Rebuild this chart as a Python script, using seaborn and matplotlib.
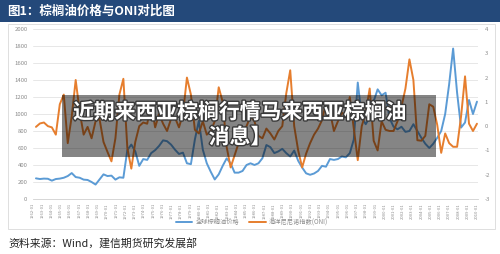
import numpy as np
import pandas as pd
import matplotlib
matplotlib.use('Agg')
import matplotlib.pyplot as plt
import matplotlib.patheffects as pe
from matplotlib.patches import Rectangle
import seaborn as sns

sns.set_style('white')
plt.rcParams['font.family'] = ['Noto Sans CJK SC', 'DejaVu Sans']
plt.rcParams['axes.unicode_minus'] = False

# ---- data ----
# global palm oil price, left axis
price = [243, 235, 240, 238, 216, 235, 240, 250, 270, 305,
         258, 250, 228, 224, 200, 170, 230, 290, 270, 275,
         228, 255, 250, 576, 640, 560, 390, 470, 460, 540,
         575, 625, 690, 680, 640, 580, 530, 545, 420, 410,
         700, 920, 580, 420, 320, 230, 290, 390, 478, 420,
         310, 310, 330, 400, 420, 400, 420, 480, 635, 610,
         540, 560, 590, 540, 500, 570, 450, 370, 302, 285,
         300, 330, 390, 380, 470, 460, 470, 500, 490, 540,
         700, 1370, 960, 880, 960, 1150, 1290, 1220, 1250, 950,
         851, 820, 850, 790, 800, 880, 800, 720, 650, 600,
         650, 720, 800, 1000, 1350, 1770, 1250, 840, 900, 1165,
         1000, 1145]
# oceanic nino index, right axis
oni = [-0.03, 0.11, 0.15, 0.0, -0.05, -0.35, 0.9, 1.3, -0.7, 0.4,
       1.9, 0.6, -0.35, -0.03, -0.5, 0.2, 0.3, -0.65, -1.06, -1.45,
       -0.5, 1.3, 1.95, -0.9, -1.75, -0.65, 0.0, 0.15, 0.1, 0.9,
       -0.05, 0.5, 0.1, -0.2, 0.3, 0.35, -0.05, 0.5, 2.0, 1.3,
       -0.15, -0.3, 0.2, -0.35, -0.2, 0.2, 1.6, 1.0, -0.86, -1.7,
       -1.2, -0.7, -0.2, 0.0, 0.4, 0.2, -0.4, -0.5, -0.1, -0.3,
       -0.55, -0.2, 0.0, 1.35, 2.3, 0.0, -1.0, -1.7, -1.13, -0.7,
       -0.35, -0.1, 0.25, 0.95, 0.6, -0.2, 0.2, 0.55, 0.45, 1.2,
       -0.1, -1.4, 0.0, 0.55, 1.55, -0.6, -1.0, 0.2, -0.15, -0.2,
       -0.2, 0.2, 0.8, 1.55, 2.75, 1.9, -0.58, -0.6, -0.4, 0.9,
       0.8, 0.05, -1.1, -0.3, -0.7, -0.85, -0.85, 0.4, 2.05, 0.1,
       -0.2, 0.1]
years = list(range(1962, 2011))
tick_labels = [f'{y}-01' for y in years]

t = 1962.32 + 0.4295 * np.arange(len(price))
df = pd.DataFrame({'t': t, 'price': price, 'oni': oni})

BLUE = '#5b9bd5'
ORANGE = '#e67e2e'
GRAY = '#8c8c8c'

W, H = 500, 254
fx = lambda px: px / W
fy = lambda py: 1 - py / H

fig = plt.figure(figsize=(5, 2.54), dpi=100)

# title bar
fig.add_artist(Rectangle((0, fy(22)), 1, 22 / H, transform=fig.transFigure,
                         facecolor='#24497a', edgecolor='none'))
fig.text(fx(7), fy(11), '图1：棕榈油价格与ONI对比图', color='white',
         fontsize=9, fontweight='bold', va='center', ha='left')

# chart frame
fig.add_artist(Rectangle((fx(8), fy(229)), fx(495) - fx(8), (229 - 24) / H,
                         transform=fig.transFigure, facecolor='none',
                         edgecolor='#d9d9d9', lw=0.6))

ax = fig.add_axes([fx(33), fy(199), fx(478) - fx(33), (199 - 29) / H])
sns.lineplot(data=df, x='t', y='price', ax=ax, color=BLUE, lw=1.4, legend=False)
ax.set_ylim(0, 2000)
ax.set_yticks(range(0, 2001, 200))
ax.set_xlim(1962.322, 2010.107)
ax.set_xticks(years)
ax.set_xticklabels(tick_labels, rotation=90)
ax.grid(axis='y', color='#e3e3e3', lw=0.6)
ax.set_axisbelow(True)
for s in ['top', 'left', 'right']:
    ax.spines[s].set_visible(False)
ax.spines['bottom'].set_color('#d0d0d0')
ax.spines['bottom'].set_linewidth(0.6)
ax.tick_params(axis='y', labelsize=4.3, colors=GRAY, length=0, pad=4)
ax.tick_params(axis='x', labelsize=3.0, colors=GRAY, length=2, width=0.4,
               pad=1, color='#d0d0d0')
ax.set_xlabel('')
ax.set_ylabel('')

ax2 = ax.twinx()
sns.lineplot(data=df, x='t', y='oni', ax=ax2, color=ORANGE, lw=1.4, legend=False)
ax2.set_ylim(-3, 4)
ax2.set_yticks(range(-3, 5))
for s in ['top', 'left', 'right', 'bottom']:
    ax2.spines[s].set_visible(False)
ax2.tick_params(axis='y', labelsize=4.3, colors=GRAY, length=0, pad=5)
ax2.set_ylabel('')

handles = [ax.lines[0], ax2.lines[0]]
fig.legend(handles, ['全球棕榈油价格', '海洋尼尼诺指数(ONI)'], loc='center',
           bbox_to_anchor=(fx(252), fy(222.5)), ncol=2, frameon=False,
           fontsize=4.5, handlelength=2.6, handletextpad=0.5,
           columnspacing=1.6, labelcolor=GRAY)

# source note
fig.text(fx(8), fy(243), '资料来源：Wind，建信期货研究发展部', color='#222222',
         fontsize=7.8, style='italic', fontweight='medium',
         va='center', ha='left')

# watermark overlay
fig.add_artist(Rectangle((fx(62), fy(157)), fx(436) - fx(62), (157 - 95) / H,
                         transform=fig.transFigure, facecolor='black',
                         alpha=0.48, edgecolor='none', zorder=5))
shadow = [pe.withStroke(linewidth=2, foreground='#3a3a3a')]
fig.text(fx(240), fy(112), '近期来西亚棕榈行情马来西亚棕榈油', color='white',
         fontsize=15, fontweight='bold', ha='center', va='center',
         zorder=6, path_effects=shadow)
fig.text(fx(240), fy(137), '消息】', color='white', fontsize=15,
         fontweight='bold', ha='center', va='center', zorder=6,
         path_effects=shadow)

fig.savefig('out.png', dpi=100)
